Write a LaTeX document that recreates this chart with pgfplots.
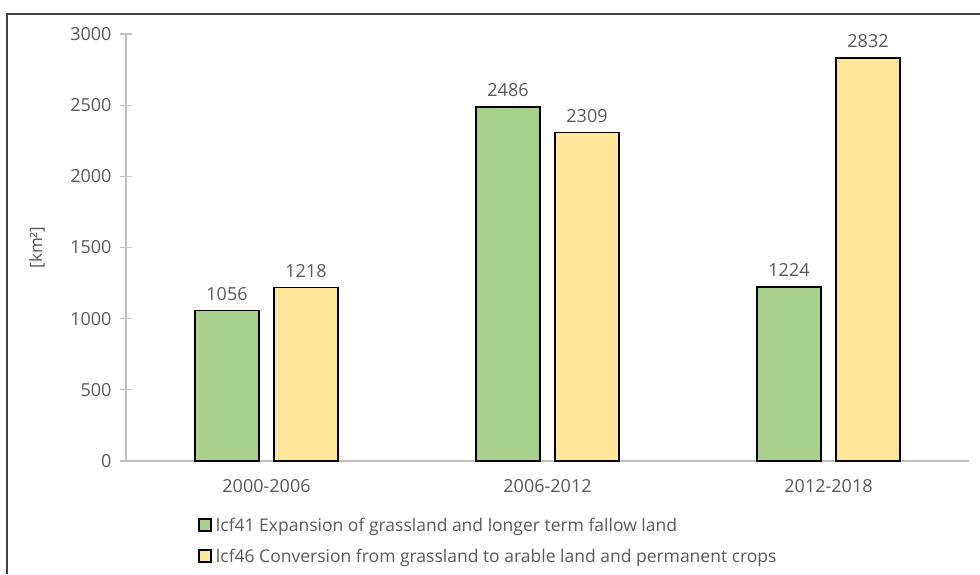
\documentclass[border=0pt]{standalone}
\usepackage{pgfplots}
\pgfplotsset{compat=1.18}
\usepackage{fontspec}
\setmainfont{Open Sans}
\definecolor{cgreen}{HTML}{A9D18E}
\definecolor{cyellow}{HTML}{FFE699}
\definecolor{ctext}{HTML}{595959}
\definecolor{caxis}{HTML}{BFBFBF}
\definecolor{cframe}{HTML}{404040}
\begin{document}
\begin{tikzpicture}
\path[use as bounding box] (-126pt,-113pt) rectangle (854pt,461pt);
\draw[cframe, line width=1.4pt] (-119pt,-113pt) -- (-119pt,447pt) -- (854pt,447pt);
\begin{axis}[
  scale only axis,
  width=843pt, height=427pt,
  xmin=-0.5, xmax=2.5, ymin=0, ymax=3000,
  axis x line=bottom, axis y line=left,
  axis line style={-, caxis, line width=1.2pt},
  xtick={0,1,2},
  xticklabels={2000-2006,2006-2012,2012-2018},
  ytick={0,500,...,3000},
  xtick style={draw=none},
  ytick style={caxis, line width=1.2pt},
  tick align=center,
  major tick length=12pt,
  /pgf/number format/assume math mode=true,
  /pgf/number format/1000 sep={},
  ticklabel style={font=\fontsize{18}{21}\selectfont, color=ctext},
  yticklabel style={xshift=-5pt},
  xticklabel style={yshift=-3pt},
  ylabel={[km²]},
  every axis y label/.style={at={(axis description cs:-0.1056,0.50)}, rotate=90, anchor=center,
    font=\fontsize{17}{20}\selectfont, color=ctext},
  ybar=15pt, bar width=64pt,
  nodes near coords,
  every node near coord/.append style={font=\fontsize{18}{21}\selectfont, color=ctext, yshift=6pt, /pgf/number format/assume math mode=true},
  legend style={at={(axis description cs:0.0854,-0.128)}, anchor=north west, draw=none, fill=none,
    font=\fontsize{17.5}{21}\selectfont, text=ctext, row sep=12pt, inner sep=0pt,
    /tikz/every even column/.append style={column sep=0pt}},
  legend cell align=left,
  legend image code/.code={\draw[#1, draw=black, line width=1.8pt] (0pt,-6pt) rectangle (12pt,6pt);},
]
\addplot[fill=cgreen, draw=black, line width=1.6pt] coordinates {(0,1056) (1,2486) (2,1224)};
\addplot[fill=cyellow, draw=black, line width=1.6pt] coordinates {(0,1218) (1,2309) (2,2832)};
\legend{\hspace{2pt}lcf41 Expansion of grassland and longer term fallow land, \hspace{2pt}lcf46 Conversion from grassland to arable land and permanent crops}
\end{axis}
\end{tikzpicture}
\end{document}
